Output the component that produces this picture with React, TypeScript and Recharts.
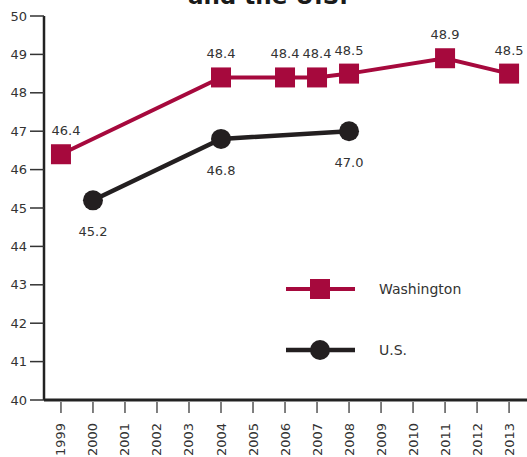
import { Line, LineChart, XAxis, YAxis } from "recharts";

const years = [
  1999, 2000, 2001, 2002, 2003, 2004, 2005, 2006, 2007, 2008, 2009, 2010,
  2011, 2012, 2013,
];
const washingtonYears = [1999, 2004, 2006, 2007, 2008, 2011, 2013];
const washingtonValues = [46.4, 48.4, 48.4, 48.4, 48.5, 48.9, 48.5];
const usYears = [2000, 2004, 2008];
const usValues = [45.2, 46.8, 47.0];
const yTicks = [40, 41, 42, 43, 44, 45, 46, 47, 48, 49, 50];
const seriesNames = ["Washington", "U.S."];

const WA = "#a6093d";
const US = "#231f20";
const FONT = "Verdana, 'DejaVu Sans', sans-serif";

const chartData = years.map((year) => {
  const wi = washingtonYears.indexOf(year);
  const ui = usYears.indexOf(year);
  return {
    year,
    washington: wi >= 0 ? washingtonValues[wi] : null,
    us: ui >= 0 ? usValues[ui] : null,
  };
});

const SquareDot = (props: any) => {
  const { cx, cy, value } = props;
  if (value == null || cx == null) return null;
  return <rect x={cx - 10} y={cy - 10} width={20} height={20} fill={WA} />;
};

const CircleDot = (props: any) => {
  const { cx, cy, value } = props;
  if (value == null || cx == null) return null;
  return <circle cx={cx} cy={cy} r={10} fill={US} />;
};

const makeLabel = (dy: number) => (props: any) => {
  const { x, y, value } = props;
  if (value == null) return null;
  // keep the first label clear of the y axis
  const dx = x < 70 ? 5 : 0;
  return (
    <text
      x={x + dx}
      y={y + dy}
      textAnchor="middle"
      fontSize={13}
      fill="#333"
      fontFamily={FONT}
    >
      {Number(value).toFixed(1)}
    </text>
  );
};

const YearTick = (props: any) => {
  const { x, y, payload } = props;
  return (
    <g>
      <line x1={x} x2={x} y1={y + 2} y2={y + 13} stroke="#555" strokeWidth={1.5} />
      <text
        transform={`translate(${x + 4.5},${y + 23}) rotate(-90)`}
        textAnchor="end"
        fontSize={13}
        fill="#333"
        fontFamily={FONT}
      >
        {payload.value}
      </text>
    </g>
  );
};

export default function App() {
  return (
    <div style={{ position: "absolute", left: 0, top: 0, width: 527, height: 457, background: "#fff" }}>
      <LineChart
        width={527}
        height={457}
        data={chartData}
        margin={{ top: 16, right: 0, left: 0, bottom: 0 }}
      >
        <XAxis
          dataKey="year"
          type="number"
          domain={[1998.47, 2013.56]}
          ticks={years}
          interval={0}
          height={57}
          tickSize={0}
          tickMargin={0}
          tick={<YearTick />}
          axisLine={{ stroke: "#222", strokeWidth: 3 }}
          tickLine={false}
        />
        <YAxis
          type="number"
          domain={[40, 50]}
          ticks={yTicks}
          width={44}
          tickSize={14}
          tickMargin={3}
          tick={{ fontSize: 13, fill: "#333", fontFamily: FONT }}
          axisLine={{ stroke: "#222", strokeWidth: 2.5 }}
          tickLine={{ stroke: "#333", strokeWidth: 1.5 }}
        />
        <Line
          dataKey="washington"
          stroke={WA}
          strokeWidth={4}
          connectNulls
          dot={<SquareDot />}
          activeDot={false}
          label={makeLabel(-19)}
          isAnimationActive={false}
        />
        <Line
          dataKey="us"
          stroke={US}
          strokeWidth={4.5}
          connectNulls
          dot={<CircleDot />}
          activeDot={false}
          label={makeLabel(36)}
          isAnimationActive={false}
        />
      </LineChart>
      <svg
        width={527}
        height={457}
        style={{ position: "absolute", left: 0, top: 0, pointerEvents: "none" }}
      >
        <text
          x={268}
          y={4}
          textAnchor="middle"
          fontSize={23}
          fontWeight="bold"
          fill="#1a1a1a"
          fontFamily={FONT}
        >
          and the U.S.
        </text>
        <g transform="translate(286,279)">
          <line x1={0} x2={69} y1={10} y2={10} stroke={WA} strokeWidth={4} />
          <rect x={24} y={0} width={20} height={20} fill={WA} />
          <text x={93} y={15} fontSize={14} fill="#333" fontFamily={FONT}>
            {seriesNames[0]}
          </text>
          <line x1={0} x2={69} y1={71} y2={71} stroke={US} strokeWidth={4.5} />
          <circle cx={34} cy={71} r={10} fill={US} />
          <text x={93} y={76} fontSize={14} fill="#333" fontFamily={FONT}>
            {seriesNames[1]}
          </text>
        </g>
      </svg>
    </div>
  );
}
